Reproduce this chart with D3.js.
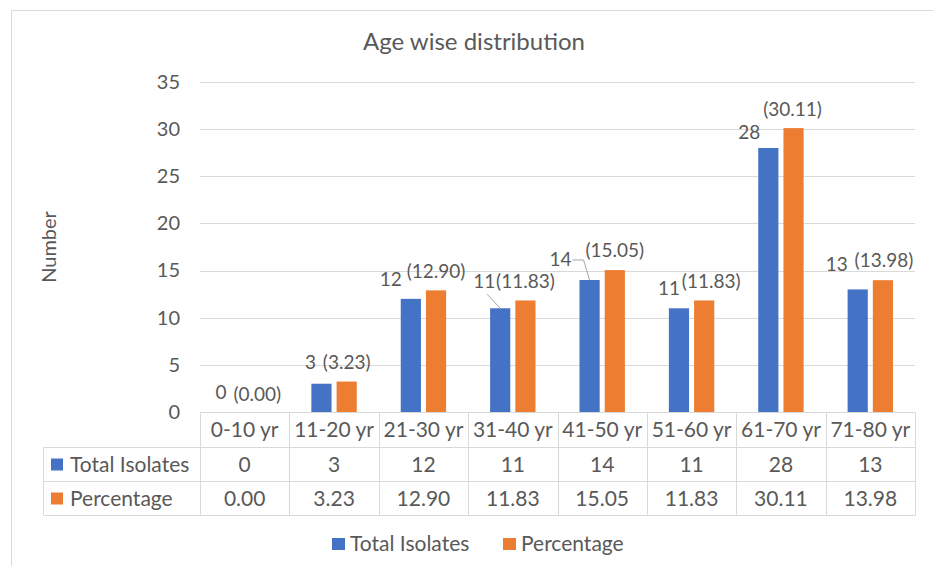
<!DOCTYPE html>
<html>
<head>
<meta charset="utf-8">
<script src="https://cdn.jsdelivr.net/npm/d3@7"></script>
<style>
  body { margin: 0; background: #fff; }
  text { font-family: Lato, 'Open Sans', sans-serif; fill: #595959; }
</style>
</head>
<body>
<div id="chart"></div>
<script>
var categories = ['0-10 yr', '11-20 yr', '21-30 yr', '31-40 yr', '41-50 yr', '51-60 yr', '61-70 yr', '71-80 yr'];
var totalIsolates = [0, 3, 12, 11, 14, 11, 28, 13];
var percentage = [0.00, 3.23, 12.90, 11.83, 15.05, 11.83, 30.11, 13.98];
var seriesNames = ['Total Isolates', 'Percentage'];
var yTicks = [0, 5, 10, 15, 20, 25, 30, 35];

// hand placed data labels (offset from bar centre / top)
var blueNudge = [[-11, -20], [-11, -21], [-20, -20], [-16, -27, 'slant'], [-29, -21, 'elbow'], [-10, -20], [-19, -16], [-21, -25]];
var orangeNudge = [[0, -18], [0, -19], [0, -19], [0, -19], [0, -20], [7, -19], [-1, -19], [1, -20]];

var width = 933,
    height = 566,
    colors = ['#4472C4', '#ED7D31'],
    plot = {left: 200, right: 915, top: 82, bottom: 412},
    rowH = [35, 34, 34],
    labelLeft = 43,
    grid = '#d9d9d9';

var svg = d3.select('#chart')
  .append('svg')
  .attr('width', width)
  .attr('height', height);

svg.append('rect')
  .attr('x', 11.5).attr('y', 10.5)
  .attr('width', 1000).attr('height', 1000)
  .attr('fill', 'none').attr('stroke', grid);

svg.append('text')
  .attr('x', 474).attr('y', 42).attr('dy', '0.35em')
  .attr('text-anchor', 'middle')
  .style('font-size', '24px')
  .text('Age wise distribution');

var x = d3.scaleBand()
  .domain(categories)
  .range([plot.left, plot.right]);

var x1 = d3.scaleBand()
  .domain(seriesNames)
  .range([x.bandwidth() / 2 - 22.7, x.bandwidth() / 2 + 22.7])
  .paddingInner(0.2);

var y = d3.scaleLinear()
  .domain([0, 35])
  .range([plot.bottom, plot.top]);

// gridlines
svg.append('g')
  .selectAll('line')
  .data(yTicks)
  .enter()
  .append('line')
  .attr('x1', plot.left).attr('x2', plot.right)
  .attr('y1', function(d) { return Math.round(y(d)) + 0.5; })
  .attr('y2', function(d) { return Math.round(y(d)) + 0.5; })
  .attr('stroke', grid);

var yAxis = svg.append('g')
  .attr('transform', 'translate(' + 180 + ',0)')
  .call(d3.axisLeft(y).tickValues(yTicks).tickSize(0).tickPadding(0));
yAxis.select('.domain').remove();
yAxis.selectAll('text')
  .style('font-size', '20px')
  .style('font-family', 'Lato, sans-serif')
  .attr('fill', '#595959');

svg.append('text')
  .attr('transform', 'translate(49,247) rotate(-90)')
  .attr('dy', '0.35em')
  .attr('text-anchor', 'middle')
  .style('font-size', '20px')
  .text('Number');

// bars
var series = [totalIsolates, percentage];
var groups = svg.append('g')
  .selectAll('g')
  .data(categories)
  .enter()
  .append('g')
  .attr('transform', function(d) { return 'translate(' + x(d) + ',0)'; });

groups.selectAll('rect')
  .data(function(d, i) {
    return seriesNames.map(function(s, k) { return {name: s, value: series[k][i], k: k}; });
  })
  .enter()
  .append('rect')
  .attr('x', function(d) { return x1(d.name); })
  .attr('width', x1.bandwidth())
  .attr('y', function(d) { return y(d.value); })
  .attr('height', function(d) { return y(0) - y(d.value); })
  .attr('fill', function(d) { return colors[d.k]; });

// data labels
var labels = svg.append('g').style('font-size', '19px');
categories.forEach(function(c, i) {
  var bx = x(c) + x1(seriesNames[0]) + x1.bandwidth() / 2,
      by = y(totalIsolates[i]),
      ox = x(c) + x1(seriesNames[1]) + x1.bandwidth() / 2,
      oy = y(percentage[i]),
      n = blueNudge[i],
      m = orangeNudge[i],
      lx = bx + n[0],
      ly = by + n[1];

  labels.append('text')
    .attr('x', lx).attr('y', ly).attr('dy', '0.35em')
    .attr('text-anchor', 'middle')
    .text(totalIsolates[i]);

  labels.append('text')
    .attr('x', ox + m[0]).attr('y', oy + m[1]).attr('dy', '0.35em')
    .attr('text-anchor', 'middle')
    .text('(' + percentage[i].toFixed(2) + ')');

  if (n[2] === 'slant') {
    labels.append('path')
      .attr('d', 'M' + (lx + 3) + ',' + (ly + 13) + 'L' + bx + ',' + by)
      .attr('stroke', '#a6a6a6').attr('fill', 'none');
  } else if (n[2] === 'elbow') {
    labels.append('path')
      .attr('d', 'M' + (lx + 12) + ',' + (ly + 1) + 'h11L' + bx + ',' + by)
      .attr('stroke', '#a6a6a6').attr('fill', 'none');
  }
});

// data table
var table = svg.append('g').attr('stroke', grid).attr('fill', 'none');
var t0 = plot.bottom + 0.5,
    t1 = t0 + rowH[0],
    t2 = t1 + rowH[1],
    t3 = t2 + rowH[2];

[t0, t1, t2, t3].forEach(function(ty, k) {
  table.append('line')
    .attr('x1', k === 0 ? plot.left : labelLeft + 0.5).attr('x2', plot.right)
    .attr('y1', ty).attr('y2', ty);
});

table.append('line')
  .attr('x1', labelLeft + 0.5).attr('x2', labelLeft + 0.5)
  .attr('y1', t1).attr('y2', t3);

categories.concat(['end']).forEach(function(c, i) {
  var xx = Math.round(plot.left + i * x.step()) + 0.5;
  table.append('line')
    .attr('x1', xx).attr('x2', xx)
    .attr('y1', t0).attr('y2', t3);
});

var tableText = svg.append('g').style('font-size', '21px');

tableText.selectAll('.head')
  .data(categories)
  .enter()
  .append('text')
  .attr('x', function(d) { return x(d) + x.bandwidth() / 2; })
  .attr('y', (t0 + t1) / 2).attr('dy', '0.35em')
  .attr('text-anchor', 'middle')
  .text(function(d) { return d; });

var rowY = [(t1 + t2) / 2, (t2 + t3) / 2];

series.forEach(function(vals, k) {
  tableText.selectAll('.row' + k)
    .data(vals)
    .enter()
    .append('text')
    .attr('x', function(d, i) { return x(categories[i]) + x.bandwidth() / 2; })
    .attr('y', rowY[k]).attr('dy', '0.35em')
    .attr('text-anchor', 'middle')
    .text(function(d) { return k === 0 ? d : d.toFixed(2); });

  tableText.append('rect')
    .attr('x', 51).attr('y', rowY[k] - 6)
    .attr('width', 12).attr('height', 12)
    .attr('fill', colors[k]);

  tableText.append('text')
    .attr('x', 70).attr('y', rowY[k]).attr('dy', '0.35em')
    .text(seriesNames[k]);
});

// legend
var legendX = [332, 503];
var legend = svg.append('g').style('font-size', '21px');
seriesNames.forEach(function(s, k) {
  legend.append('rect')
    .attr('x', legendX[k]).attr('y', 538)
    .attr('width', 13).attr('height', 12)
    .attr('fill', colors[k]);
  legend.append('text')
    .attr('x', legendX[k] + 18).attr('y', 544).attr('dy', '0.35em')
    .text(s);
});
</script>
</body>
</html>
